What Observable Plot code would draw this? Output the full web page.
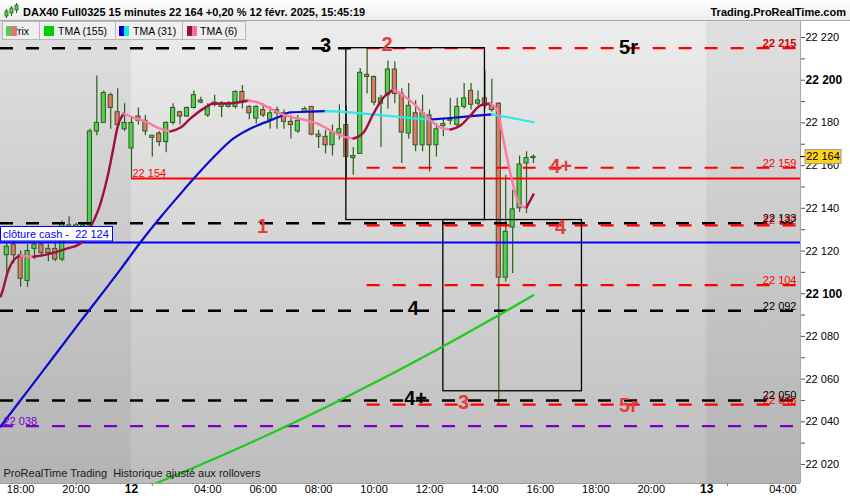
<!DOCTYPE html>
<html><head><meta charset="utf-8">
<script src="https://cdn.jsdelivr.net/npm/d3@7"></script>
<script src="https://cdn.jsdelivr.net/npm/@observablehq/plot@0.6"></script>
<style>
body{margin:0;background:#fff;font-family:"Liberation Sans",Arial,sans-serif;}
#wrap{position:relative;width:850px;height:500px;overflow:hidden;background:#fff;}
#title{position:relative;height:21px;box-sizing:border-box;border-bottom:1px solid #a9a9a9;background:linear-gradient(#ffffff,#ededed);}
#ttl{position:absolute;left:23px;top:6px;line-height:13px;font-weight:bold;font-size:11px;color:#000;white-space:nowrap;}
#brand{position:absolute;right:4px;top:6px;line-height:13px;font-weight:bold;font-size:11px;color:#000;}
#icon{position:absolute;left:4px;top:3px;}
#chart svg{display:block;}
#legend{position:absolute;left:0;top:21px;height:19px;}
.lg{position:absolute;top:0;height:19px;box-sizing:border-box;border:1px solid #b8b8b8;background:#efefef;font-size:10.5px;color:#000;}
.lg .tx{position:absolute;top:3px;line-height:12px;white-space:nowrap;}
.lg .sq{position:absolute;top:4px;width:10px;height:10px;}
.lg .sq i{display:block;float:left;width:5px;height:10px;}
</style>
</head><body>
<div id="wrap">
  <div id="title">
    <svg id="icon" width="15" height="16" viewBox="0 0 15 16">
      <line x1="2.5" y1="6" x2="2.5" y2="15" stroke="#2d5b1c"/><rect x="1" y="8" width="3" height="5" fill="#4fd34f" stroke="#2d5b1c" stroke-width="0.8"/>
      <line x1="7.5" y1="3" x2="7.5" y2="13" stroke="#2d5b1c"/><rect x="6" y="5" width="3" height="5" fill="#4fd34f" stroke="#2d5b1c" stroke-width="0.8"/>
      <line x1="12.5" y1="0" x2="12.5" y2="10" stroke="#2d5b1c"/><rect x="11" y="2" width="3" height="5" fill="#4fd34f" stroke="#2d5b1c" stroke-width="0.8"/>
    </svg>
    <span id="ttl">DAX40 Full0325 15 minutes 22 164 +0,20 % 12 févr. 2025, 15:45:19</span>
    <span id="brand">Trading.ProRealTime.com</span>
  </div>
  <div id="chart"></div>
  <div id="legend">
    <div class="lg" style="left:2px;width:38px;"><span class="tx" style="left:8px;">Prix</span><span class="sq" style="left:3px;width:11px;"><i style="background:#4fd34f;width:5px"></i><i style="background:#e5766e;width:6px"></i></span></div>
    <div class="lg" style="left:39px;width:77px;"><span class="sq" style="left:4px;"><i style="background:#00cc00;width:10px"></i></span><span class="tx" style="left:18px;">TMA (155)</span></div>
    <div class="lg" style="left:115px;width:68px;"><span class="sq" style="left:3px;"><i style="background:#0000d0"></i><i style="background:#00f0f0"></i></span><span class="tx" style="left:17px;">TMA (31)</span></div>
    <div class="lg" style="left:182px;width:64px;"><span class="sq" style="left:4px;"><i style="background:#99103c"></i><i style="background:#ff6f9c"></i></span><span class="tx" style="left:17px;">TMA (6)</span></div>
  </div>
</div>
<script>
// ---- scales: x in session hours (0 = start of 12 Feb session), y in points
const xDomain = [-4.726, 24.134];
const yDomain = [22011.1, 22227.5];

// ---- 15-minute candles (first bar at -4.5 h, one per quarter hour)
const firstBarT = -4.5;
const opens  = [22118,22123,22118,22106,22121,22123,22121,22121,22116,22132,22131,22128,22132,22176,22180,22193,22185,22177,
  22168,22183,22181,22173,22175,22171,22180,22185,22183,22187,22190.5,22183.5,22188.5,22187.5,22187.5,22187.5,22194.5,22187.5,22182,22186,22181.5,22186,22184.5,22180.5,22176,22185,22187.5,22174.5,22173.5,22169.5,22175,22179,22163.5,22165.5,22202.5,22201.5,22189,22193,22205,22193.5,22175,22184.5,22169.5,22183.5,22169.5,22178.5,22181,22179,22187.5,22195,22189,22191.5,22188,22189,22107.5,22131,22140,22161,22163.5];
const highs  = [22124,22125,22120,22123,22124,22124,22123,22124,22134,22136,22133,22133,22177,22202,22195,22194,22196,22189,
  22183,22187,22183.5,22174,22176,22180.5,22189,22185.5,22187.5,22195,22192,22189,22193,22190,22190,22195,22197.5,22188,22188,22189,22187.5,22187.5,22186,22183.5,22183.5,22187.5,22187.5,22176.5,22176.5,22179,22188.5,22188,22168.5,22205.5,22215,22202,22193,22209,22208.5,22196,22198.5,22190.5,22193,22186,22179.5,22182,22191.5,22191.5,22198.5,22198.5,22195,22204.5,22200.5,22189.5,22155.5,22148.5,22164.5,22166.5,22165];
const lows   = [22108,22114,22103,22103,22116,22117,22115,22115,22115,22126,22127,22127,22131,22174,22180,22177,22178,22176,
  22154,22179,22174,22164,22169,22166,22179,22179,22182.5,22186.5,22189,22182.5,22187.5,22182.5,22187,22186.5,22186.5,22181.5,22179.5,22182.5,22177,22177,22177,22172.5,22175,22184.5,22174,22168,22165.5,22164.5,22172,22153,22155.5,22165.5,22193.5,22188,22168.5,22186.5,22189,22161,22172.5,22166.5,22166.5,22157,22164,22173.5,22179,22178,22186.5,22186,22188,22186,22185,22048,22105.5,22109.5,22138,22137.5,22161];
const closes = [22122,22118,22107,22120,22123,22119,22119,22116,22133,22129,22132,22132,22176,22180,22194,22187,22179,22180,
  22180,22181,22176,22174,22171,22180,22187,22183,22187,22193,22189.5,22187.5,22189.5,22189,22189,22194.5,22189.5,22184.5,22187.5,22183.5,22184.5,22184.5,22180.5,22179,22181,22186.5,22174.5,22173.5,22169.5,22175.5,22177,22164,22164.5,22203.5,22201.5,22189.5,22191.5,22205,22193.5,22175.5,22188,22169.5,22184.5,22169.5,22177,22179.5,22181.5,22187.5,22191.5,22188.5,22190.5,22188,22186,22107.5,22129,22139.5,22160.5,22163.5,22164];
const lastClose = 22164;

// ---- moving averages (session hour, value)
const tma155T = [0.685,2.489,4.293,6.097,7.900,9.704,10.786,11.869,13.312,14.5];
const tma155V = [22010.1,22019.9,22030.2,22041.1,22052.6,22064.6,22072.1,22079.8,22090.4,22099.3];
const tma31T = [-4.726,-3.283,-1.84,-0.397,0.325,1.046,1.768,2.237,2.958,3.68,4.293,4.545,5.267,5.736,6.457,7.0,7.5,8.5,9.5,10.5,10.75,11.5,12.25,13.0,13.5,14.0,14.5];
const tma31V = [22037.8,22062.3,22087,22111.4,22124.1,22135.8,22146.8,22153.8,22163.9,22172.7,22177.4,22178.8,22182.5,22184.9,22185.3,22185.5,22185.3,22184.2,22183,22181.8,22181.5,22182.3,22183.2,22184,22182.8,22181.6,22180.3];
const tma6T = [-4.726,-4.665,-4.48,-4.26,-4.0,-3.75,-3.54,-2.92,-2.31,-1.84,-1.48,-1.12,-0.87,-0.65,-0.51,-0.29,0.07,0.58,0.94,1.41,1.77,2.13,2.60,2.96,3.46,4.22,4.55,5.01,5.38,5.84,6.20,6.71,7.18,7.65,8.01,8.37,8.73,9.09,9.45,9.81,10.17,10.53,10.79,11.15,11.51,11.87,12.23,12.59,12.95,13.20,13.42,13.67,13.85,14.03,14.25,14.50];
const tma6V = [22098.7,22100.7,22109.5,22115.6,22117.9,22117.4,22117.3,22118.8,22121.2,22123.5,22131,22142.2,22154.4,22168.5,22177.8,22184.4,22182.5,22180.2,22177.8,22176,22177.8,22182.1,22186.7,22189.1,22189.1,22190.5,22189.6,22186.7,22184.4,22182.5,22181.6,22179.7,22176.4,22173.6,22172.7,22175.5,22184.4,22191.9,22195.6,22192.8,22189.1,22184.4,22181.1,22177.8,22176.9,22178.8,22183.5,22188.2,22189.1,22185.8,22171.8,22156.3,22146.9,22141.3,22140.4,22146.5];

// ---- horizontal levels
const blackLevels = [22215, 22133, 22092, 22050];
const blackLevelEndT = [8.0, null, null, null];
const redLevels = [22215, 22159, 22132, 22104, 22048];
const redLevelStartT = 8.5;
const purpleLevel = 22038;
const supportLevel = 22154, supportStartT = 0;
const cashClose = 22124;

// ---- boxes
const boxX1 = [7.75, 11.25], boxX2 = [12.75, 16.25];
const boxTop = [22215, 22134.5], boxBottom = [22134.5, 22054.3];

// ---- annotations
const annT = [7.0, 9.22, 17.93, 15.48, 4.73, 15.48, 10.17, 10.25, 11.98, 17.93];
const annV = [22216.3, 22216.7, 22215.3, 22159.6, 22131.5, 22131, 22093.1, 22050.9, 22049.0, 22047.6];
const annText = ["3", "2", "5r", "4+", "1", "4", "4", "4+", "3", "5r"];
const annIsRed = [false, true, false, true, true, true, false, false, true, true];

// ---- axes
const yMinorTicks = d3.range(22020, 22221, 10);
const yLabelTicks = [22020, 22040, 22060, 22080, 22120, 22140, 22160, 22180, 22220];
const yBoldTicks = [22100, 22200];
const xLabelT = [-4, -2, 0, 2.75, 4.75, 6.75, 8.75, 10.75, 12.75, 14.75, 16.75, 18.75, 20.75, 23.5];
const xLabelText = ["18:00","20:00","12","04:00","06:00","08:00","10:00","12:00","14:00","16:00","18:00","20:00","13","04:00"];
const xBold = ["12", "13"];
const xTickMarks = [-2, 0.75, 16.75, 21.5];
const dayBreaks = [0, 20.75];
const caption = "ProRealTime Trading  Historique ajusté aux rollovers";

// ---- build
const fmt = v => { const s = String(Math.round(v)); return s.slice(0, s.length - 3) + " " + s.slice(-3); };
const GREEN = "#4fd34f", RED = "#e5766e", WICK = "#2d5b1c", LRED = "#e53c3c";
const bars = opens.map((o, i) => ({t: firstBarT + i * 0.25, o, h: highs[i], l: lows[i], c: closes[i]}));
const offDays = [{a: xDomain[0], b: dayBreaks[0]}, {a: dayBreaks[1], b: xDomain[1]}];

function runs(T, V, up, down) {
  const pts = []; let run = 0, prev = null;
  for (let i = 0; i < T.length - 1; i++) {
    const col = V[i + 1] >= V[i] ? up : down;
    if (col !== prev) { run++; pts.push({t: T[i], v: V[i], run, col}); prev = col; }
    pts.push({t: T[i + 1], v: V[i + 1], run, col});
  }
  return pts;
}
const ma155 = runs(tma155T, tma155V, "#1ccc1c", "#1ccc1c");
const ma31 = runs(tma31T, tma31V, "#0a0ad0", "#2ee8e8");
const ma6 = runs(tma6T, tma6V, "#a0103e", "#ff78a2");

const blackRows = blackLevels.map((v, i) => ({v, to: blackLevelEndT[i] ?? xDomain[1]}));
const boxes = boxX1.map((x1, i) => ({x1, x2: boxX2[i], y1: boxBottom[i], y2: boxTop[i]}));
const anns = annT.map((t, i) => ({t, v: annV[i], text: annText[i], red: annIsRed[i]}));
const xLabels = xLabelT.map((t, i) => ({t, text: xLabelText[i]}));
const rightRed = redLevels.filter(v => v !== 22215);

const plot = Plot.plot({
  width: 850, height: 479,
  marginTop: 0, marginBottom: 17, marginLeft: 0, marginRight: 50,
  x: {domain: xDomain, label: null},
  y: {domain: yDomain, label: null},
  color: {type: "identity"},
  style: {fontFamily: "'Liberation Sans', Arial, sans-serif", background: "transparent"},
  marks: [
    Plot.rect(offDays, {x1: "a", x2: "b", fill: "#000", fillOpacity: 0.05}),
    // candles
    Plot.ruleX(bars, {x: "t", y1: "l", y2: "h", stroke: WICK, strokeWidth: 1.2}),
    Plot.rect(bars, {x1: d => d.t - 0.125, x2: d => d.t + 0.125,
      y1: d => Math.min(d.o, d.c), y2: d => Math.max(Math.max(d.o, d.c), Math.min(d.o, d.c) + 0.6),
      insetLeft: 1.4, insetRight: 1.4,
      fill: d => d.c >= d.o ? GREEN : RED, stroke: WICK, strokeWidth: 1}),
    // levels
    Plot.ruleY(blackRows, {y: "v", x1: xDomain[0], x2: "to", stroke: "#000", strokeWidth: 2.6, strokeDasharray: "13,13"}),
    Plot.ruleY(redLevels, {y: d => d, x1: redLevelStartT, x2: xDomain[1], stroke: "#ff0000", strokeWidth: 2.2, strokeDasharray: "13,13"}),
    Plot.ruleY([purpleLevel], {y: d => d, x1: xDomain[0], x2: xDomain[1], stroke: "#7a00c4", strokeWidth: 2.2, strokeDasharray: "13,13"}),
    Plot.ruleY([supportLevel], {y: d => d, x1: supportStartT, x2: xDomain[1], stroke: "#ff0000", strokeWidth: 2}),
    Plot.ruleY([cashClose], {y: d => d, x1: xDomain[0], x2: xDomain[1], stroke: "#0000ff", strokeWidth: 2}),
    // boxes
    Plot.rect(boxes, {x1: "x1", x2: "x2", y1: "y1", y2: "y2", fill: "none", stroke: "#000", strokeWidth: 1.3}),
    // moving averages
    Plot.line(ma155, {x: "t", y: "v", z: "run", stroke: "col", strokeWidth: 2.2, curve: "monotone-x", clip: true}),
    Plot.line(ma31, {x: "t", y: "v", z: "run", stroke: "col", strokeWidth: 2.2, curve: "monotone-x", clip: true}),
    Plot.line(ma6, {x: "t", y: "v", z: "run", stroke: "col", strokeWidth: 2.4, curve: "monotone-x", clip: true}),
    // level labels
    Plot.text([22215], {x: xDomain[1], y: d => d, text: fmt, dx: -4, textAnchor: "end", lineAnchor: "bottom", dy: -1, fontSize: 11, fontWeight: "bold", fill: "#d40000"}),
    Plot.text(rightRed, {x: xDomain[1], y: d => d, text: fmt, dx: -4, textAnchor: "end", lineAnchor: "bottom", dy: -1, fontSize: 11, fill: "#ff0000"}),
    Plot.text(blackLevels.slice(1), {x: xDomain[1], y: d => d, text: fmt, dx: -4, textAnchor: "end", lineAnchor: "bottom", dy: -1, fontSize: 11, fill: "#000"}),
    Plot.text([supportLevel], {x: supportStartT, y: d => d, text: fmt, dx: 1, textAnchor: "start", lineAnchor: "bottom", dy: -1, fontSize: 11, fill: "#ff0000"}),
    Plot.text([purpleLevel], {x: xDomain[0], y: d => d, text: fmt, dx: 3, textAnchor: "start", lineAnchor: "bottom", dy: -1, fontSize: 11, fill: "#7a00c4"}),
    // annotations
    Plot.text(anns, {x: "t", y: "v", text: "text", fill: d => d.red ? LRED : "#000", fontSize: 20, fontWeight: "bold"}),
    // caption
    Plot.text([caption], {frameAnchor: "bottom-left", text: d => d, dx: 3, dy: -7, textAnchor: "start", fontSize: 11, fill: "#1a1a1a"}),
    // frame edges
    Plot.ruleY([yDomain[0]], {stroke: "#9d9d9d"}),
    Plot.ruleX([xDomain[1]], {stroke: "#a8a8a8"}),
    // y axis
    Plot.axisY({anchor: "right", ticks: yMinorTicks, tickSize: 4, tickFormat: () => "", label: null, stroke: "#555"}),
    Plot.text(yLabelTicks, {x: xDomain[1], y: d => d, text: fmt, dx: 5, textAnchor: "start", fontSize: 11, fill: "#000"}),
    Plot.text(yBoldTicks, {x: xDomain[1], y: d => d, text: fmt, dx: 5, textAnchor: "start", fontSize: 12, fontWeight: "bold", fill: "#000"}),
    // x axis
    Plot.axisX({anchor: "bottom", ticks: xTickMarks, tickSize: 3, tickFormat: () => "", label: null, stroke: "#777"}),
    Plot.text(xLabels.filter(d => !xBold.includes(d.text)), {x: "t", text: "text", frameAnchor: "bottom", dy: 9, fontSize: 11, fill: "#000"}),
    Plot.text(xLabels.filter(d => xBold.includes(d.text)), {x: "t", text: "text", frameAnchor: "bottom", dy: 9, fontSize: 12, fontWeight: "bold", fill: "#000"})
  ]
});

plot.style.background = "linear-gradient(#ececec, #bdbdbd) 0 0 / 800px 462px no-repeat, #ffffff";
document.getElementById("chart").appendChild(plot);

// overlays positioned with the plot's own scales
const sx = plot.scale("x"), sy = plot.scale("y");
const svg = d3.select(plot);
const xr = sx.apply(xDomain[1]);
const yc = sy.apply(cashClose);
const gc = svg.append("g");
gc.append("rect").attr("x", 0.5).attr("y", yc - 15.5).attr("width", 112).attr("height", 14.5)
  .attr("fill", "#fff").attr("stroke", "#0000ff").attr("stroke-width", 1);
gc.append("text").attr("x", 3).attr("y", yc - 8).attr("dy", "0.35em").attr("font-size", 11)
  .attr("text-anchor", "start")
  .attr("fill", "#0000ff").attr("font-family", "'Liberation Sans', Arial, sans-serif")
  .text("clôture cash -  " + fmt(cashClose));
const yt = sy.apply(lastClose);
const gt = svg.append("g");
gt.append("line").attr("x1", xr).attr("x2", xr + 5).attr("y1", yt).attr("y2", yt).attr("stroke", "#000");
gt.append("rect").attr("x", xr + 5).attr("y", yt - 7).attr("width", 36).attr("height", 14)
  .attr("fill", "#ffd21c").attr("stroke", "#9a9a9a");
gt.append("text").attr("x", xr + 23).attr("y", yt).attr("dy", "0.35em").attr("text-anchor", "middle")
  .attr("font-size", 11).attr("font-family", "'Liberation Sans', Arial, sans-serif").text(fmt(lastClose));
</script>
</body></html>
